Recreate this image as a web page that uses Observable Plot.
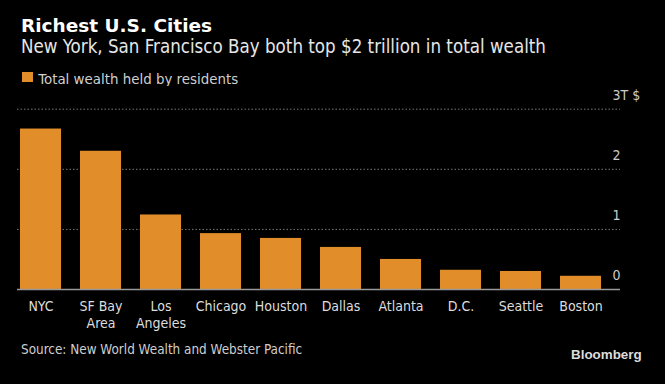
<!DOCTYPE html>
<html><head><meta charset="utf-8">
<script src="https://cdn.jsdelivr.net/npm/d3@7"></script>
<script src="https://cdn.jsdelivr.net/npm/@observablehq/plot@0.6"></script>
<style>
html,body{margin:0;padding:0;background:#000;width:665px;height:384px;overflow:hidden;}
.t{position:absolute;white-space:nowrap;line-height:1;margin:0;}
#title{left:21px;top:15.4px;font:bold 18.5px 'DejaVu Sans',sans-serif;color:#fff;}
#subtitle{left:21px;top:36px;font:18.6px 'DejaVu Sans Condensed',sans-serif;color:#e6e6e6;}
#legsq{position:absolute;left:21.7px;top:71.7px;width:11px;height:10px;background:#e08d2a;}
#legtx{left:38.3px;top:69.8px;font:14.9px 'DejaVu Sans Condensed',sans-serif;color:#cfcfcf;}
#source{left:21px;top:342px;font:13.4px 'DejaVu Sans Condensed',sans-serif;color:#cfcfcf;}
#brand{right:23.3px;top:347px;font:bold 13.4px 'Liberation Sans',Arial,sans-serif;color:#dcdcdc;}
#chart{position:absolute;left:0;top:86px;}
</style></head><body>
<div class="t" id="title">Richest U.S. Cities</div>
<div class="t" id="subtitle">New York, San Francisco Bay both top $2 trillion in total wealth</div>
<div id="legsq"></div>
<div class="t" id="legtx">Total wealth held by residents</div>
<div id="chart"></div>
<div class="t" id="source">Source: New World Wealth and Webster Pacific</div>
<div class="t" id="brand">Bloomberg</div>
<script>
const cities = ["NYC","SF Bay Area","Los Angeles","Chicago","Houston","Dallas","Atlanta","D.C.","Seattle","Boston"];
const cityLabels = ["NYC","SF Bay\nArea","Los\nAngeles","Chicago","Houston","Dallas","Atlanta","D.C.","Seattle","Boston"];
const wealth = [2.67,2.30,1.24,0.93,0.85,0.70,0.50,0.32,0.30,0.22];
const yTicks = [0,1,2,3];
const yTickLabels = ["0","1","2","3T $"];
const gridValues = [1,2,3];

const data = cities.map((c,i)=>({city:c, wealth: wealth[i]}));
const chart = Plot.plot({
  width:665, height:248, marginTop:22.7, marginBottom:45, marginLeft:17, marginRight:45,
  style:{background:"#000", color:"#ccc", fontFamily:"'DejaVu Sans Condensed', sans-serif", fontSize:"14px"},
  x:{domain:cities, paddingInner:0.31, paddingOuter:0.1635, align:0.152, label:null},
  y:{domain:[0,3], label:null},
  marks:[
    Plot.ruleY(gridValues, {stroke:"#777", strokeDasharray:"1.5,2", strokeWidth:1}),
    Plot.barY(data, {x:"city", y:"wealth", fill:"#e08d2a"}),
    Plot.ruleY([0], {stroke:"#999", strokeWidth:1.5}),
    Plot.axisX({tickSize:0, tickPadding:9, lineHeight:1.24, tickFormat: d => cityLabels[cities.indexOf(d)], fill:"#ddd", fontSize:14}),
    Plot.axisY({anchor:"right", ticks:yTicks, tickSize:0, tickPadding:0, dx:-8, dy:-14, textAnchor:"start", tickFormat: d => yTickLabels[yTicks.indexOf(d)], fill:"#ccc", fontSize:14})
  ]
});
document.getElementById("chart").appendChild(chart);
</script>
</body></html>
